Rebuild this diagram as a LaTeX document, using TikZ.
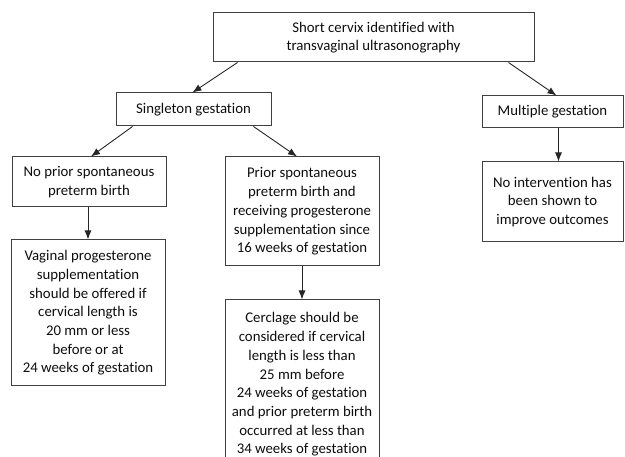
\documentclass[tikz,border=0pt]{standalone}
\usepackage{fontspec}
\setmainfont{Carlito}[Ligatures=NoCommon]
\usetikzlibrary{arrows.meta,positioning}
\tikzset{flowbox/.style={draw=black!75, line width=1pt, align=center, inner sep=2pt, text=black!95, font=\fontsize{14.8}{18.7}\selectfont}}
\tikzset{flowarrow/.style={draw=black!85, line width=0.9pt, -{Latex[length=9pt,width=7pt]}}}

\begin{document}
\begin{tikzpicture}[x=1pt,y=-1pt]
\useasboundingbox (0,0) rectangle (625,457);

\node[flowbox, minimum width=321pt, minimum height=49pt] (short) at (373.5,37.5) {Short cervix identified with\\transvaginal ultrasonography};

\node[flowbox, minimum width=155pt, minimum height=33pt] (single) at (193.5,109.5) {Singleton gestation};
\node[flowbox, minimum width=141pt, minimum height=32pt] (multi) at (552.5,112) {Multiple gestation};

\node[flowbox, minimum width=154pt, minimum height=50pt] (noprior) at (89,182) {No prior spontaneous\\preterm birth};
\node[flowbox, minimum width=154pt, minimum height=109pt] (prior) at (302,211.5) {Prior spontaneous\\preterm birth and\\receiving progesterone\\supplementation since\\16 weeks of gestation};
\node[flowbox, minimum width=141pt, minimum height=80pt] (nointerv) at (552.5,202) {No intervention has\\been shown to\\improve outcomes};

\node[flowbox, minimum width=154pt, minimum height=146pt] (vaginal) at (88,313) {Vaginal progesterone\\supplementation\\should be offered if\\cervical length is\\20 mm or less\\before or at\\24 weeks of gestation};
\node[flowbox, minimum width=154pt, minimum height=169pt] (cerclage) at (302,384.5) {Cerclage should be\\considered if cervical\\length is less than\\25 mm before\\24 weeks of gestation\\and prior preterm birth\\occurred at less than\\34 weeks of gestation};

\draw[flowarrow] ([xshift=25pt]short.south west) -- ([xshift=-1pt]single.north);
\draw[flowarrow] ([xshift=-26pt]short.south east) -- ([xshift=4pt]multi.north);
\draw[flowarrow] ([xshift=17pt]single.south west) -- ([xshift=2pt]noprior.north);
\draw[flowarrow] ([xshift=-18pt]single.south east) -- ([xshift=-5pt]prior.north);
\draw[flowarrow] (noprior.south -| vaginal.north) -- (vaginal.north);
\draw[flowarrow] (prior.south) -- (cerclage.north);
\draw[flowarrow] ([xshift=6pt]multi.south) -- ([xshift=6pt]nointerv.north);

\end{tikzpicture}
\end{document}
